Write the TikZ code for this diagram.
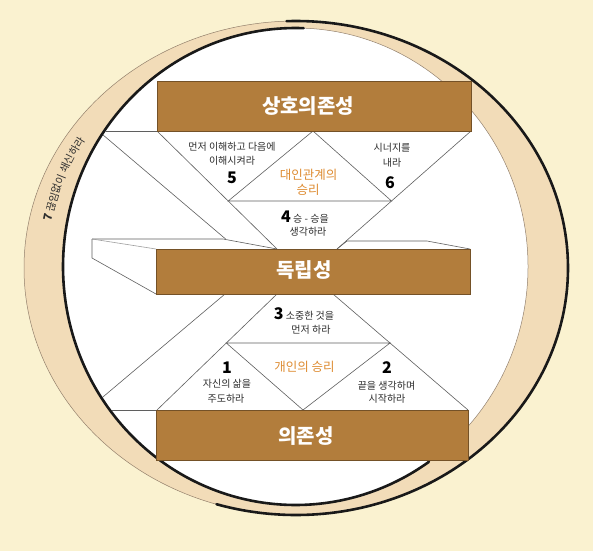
\documentclass[tikz,border=0pt]{standalone}
\usepackage{fontspec}
\newfontfamily\kr{Noto Sans CJK KR}
\usetikzlibrary{decorations.text}
\definecolor{bgcream}{RGB}{250,242,208}
\definecolor{ringtan}{RGB}{242,220,184}
\definecolor{boxbrown}{RGB}{178,125,60}
\definecolor{winorange}{RGB}{222,140,50}
\definecolor{inkgray}{RGB}{45,45,45}
\definecolor{linegray}{RGB}{95,95,95}
\begin{document}
\begin{tikzpicture}[x=1pt,y=-1pt,
  struct/.style={draw=linegray,line width=0.6pt},
  blackrim/.style={draw=black!90,line width=2.6pt,line cap=round,line join=round},
  thinrim/.style={draw=gray!70!brown,line width=0.5pt},
  brownbox/.style={fill=boxbrown,draw=boxbrown!65!black,line width=0.5pt},
  title/.style={text=white,font=\kr\bfseries\fontsize{20}{24}\selectfont,anchor=base,inner sep=0pt},
  small/.style={text=inkgray,font=\kr\fontsize{10}{12}\selectfont,anchor=base,inner sep=0pt},
  num/.style={text=black,font=\kr\bfseries\fontsize{16}{19}\selectfont,anchor=base,inner sep=0pt},
  win/.style={text=winorange,font=\kr\fontsize{12.5}{15}\selectfont,anchor=base,inner sep=0pt}]

\useasboundingbox (0,0) rectangle (593,551);
\fill[bgcream] (0,0) rectangle (593,551);

% outer tan ring (A) and inner white disc (B)
\fill[ringtan] (296,268) ellipse [x radius=272, y radius=247];
\draw[thinrim] (296,268) ellipse [x radius=272, y radius=247];
\fill[white] (295.5,266.5) ellipse [x radius=232.5, y radius=238.5];
\draw[thinrim] (295.5,266.5) ellipse [x radius=232.5, y radius=238.5];

% black rims: B from lower right round the left to the top, A from the top round the right to the bottom
\draw[blackrim] plot[domain=55:272, samples=120, smooth]
  ({295.5+232.5*cos(\x)},{266.5+238.5*sin(\x)});
\draw[blackrim] plot[domain=-92:107, samples=120, smooth]
  ({296+272*cos(\x)},{268+247*sin(\x)});

% named points
\coordinate (TBL) at (157,131);
\coordinate (TBR) at (471,131);
\coordinate (TAp) at (313,131);
\coordinate (L1e) at (277,249);
\coordinate (L2e) at (337,249);
\coordinate (V5) at (228.2,201);
\coordinate (V6) at (391.5,201);
\coordinate (MB1) at (277,294);
\coordinate (MB2) at (333,294);
\coordinate (BBL) at (157,410);
\coordinate (BBR) at (468,410);
\coordinate (W1) at (226.3,343);
\coordinate (W2) at (390,343);
\coordinate (BAp) at (303,410);
\coordinate (S6) at (225.6,239);
\coordinate (M6s) at (225,294);

% lines reaching the rim (clipped to the white disc)
\begin{scope}
  \clip (295.5,266.5) ellipse [x radius=231, y radius=237];
  \draw[struct] (60,98.4) -- (S6);
  \draw[struct] (60,131) -- (TBL);
  \draw[struct] (M6s) -- (60.7,432.6);
  \draw[struct] (60,410) -- (BBL);
\end{scope}

% upper structure
\draw[struct] (TBL) -- (V5) -- (L1e);
\draw[struct] (TBR) -- (V6) -- (L2e);
\draw[struct] (TAp) -- (V5) -- (V6) -- cycle;

% lower structure
\draw[struct] (MB1) -- (W1) -- (BBL);
\draw[struct] (MB2) -- (W2) -- (BBR);
\draw[struct] (BAp) -- (W1) -- (W2) -- cycle;

% 3D slab of the middle box
\coordinate (SL1) at (92,239);
\coordinate (SL2) at (92,258);
\draw[struct] (SL1) -- (223,239) -- (L1e);
\draw[struct] (SL1) -- (SL2) -- (156,294);
\draw[struct,draw=linegray!60] (SL1) -- (156,249);
\draw[struct] (L2e) -- (347,241) -- (427,241) -- (470,249);

% boxes
\draw[brownbox] (157,81) rectangle (471,131);
\draw[brownbox] (156,249) rectangle (470,294);
\draw[brownbox] (156,410) rectangle (468,460);

% titles
\node[title] (tInter) at (308,113) {상호의존성};
\node[title] (tIndep) at (304,277) {독립성};
\node[title] (tDep) at (306,443) {의존성};

% upper texts
\node[small] (h5a) at (232,150.6) {먼저 이해하고 다음에};
\node[small] (h5b) at (232,164.6) {이해시켜라};
\node[num] (n5) at (232,183) {5};
\node[win] (w1a) at (308.5,179.5) {대인관계의};
\node[win] (w1b) at (308,194.5) {승리};
\node[small] (h6a) at (392,151.6) {시너지를};
\node[small] (h6b) at (392,166.6) {내라};
\node[num] (n6) at (390,188) {6};
\node[small] (h4a) at (305,222) {{\bfseries\fontsize{16}{19}\selectfont\color{black}4} 승 - 승을};
\node[small] (h4b) at (308,235.6) {생각하라};

% lower texts
\node[small] (h3a) at (304,319) {{\bfseries\fontsize{16}{19}\selectfont\color{black}3} 소중한 것을};
\node[small] (h3b) at (311,333.6) {먼저 하라};
\node[win] (w2) at (304.5,371.5) {개인의 승리};
\node[num] (n1) at (227,373) {1};
\node[small] (h1a) at (227,387.5) {자신의 삶을};
\node[small] (h1b) at (226,402.5) {주도하라};
\node[num] (n2) at (387,373) {2};
\node[small] (h2a) at (386.5,389) {끝을 생각하며};
\node[small] (h2b) at (387,402.6) {시작하라};

% habit 7 along the ring
\coordinate (Arc7) at (47,267.5);
\path[decorate, decoration={text along path, text align=center, text color=inkgray,
  text={|\kr\bfseries\fontsize{11.5}{13}\selectfont|7|\kr\mdseries\fontsize{10.5}{12}\selectfont|{ }끊임없이{ }쇄신하라}}]
  (Arc7) arc[start angle=180, end angle=223, x radius=249, y radius=239.5];
\end{tikzpicture}
\end{document}
